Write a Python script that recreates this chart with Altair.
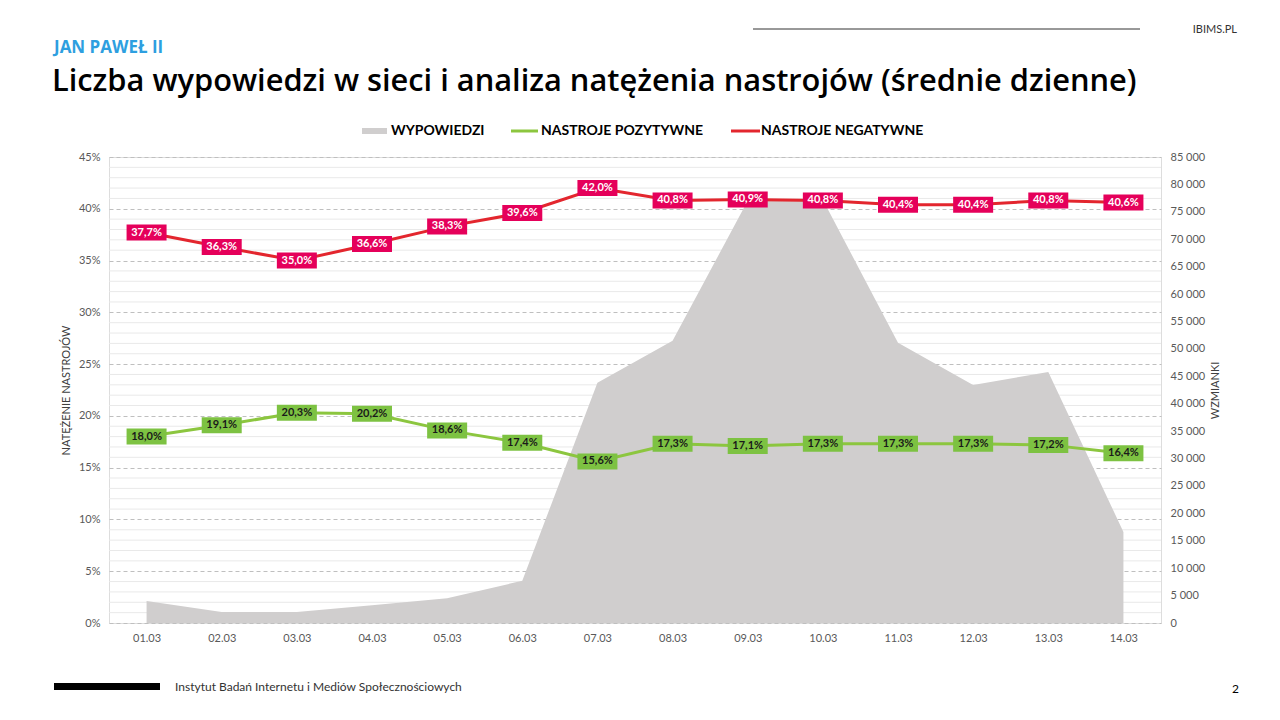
import altair as alt
import pandas as pd

# ---------------- data ----------------
dates = ["01.03", "02.03", "03.03", "04.03", "05.03", "06.03", "07.03",
         "08.03", "09.03", "10.03", "11.03", "12.03", "13.03", "14.03"]
wypowiedzi = [4000, 2000, 2000, 3250, 4500, 7700, 43800,
              51500, 77000, 77200, 51100, 43400, 45800, 16600]
pozytywne = [18.0, 19.1, 20.3, 20.2, 18.6, 17.4, 15.6,
             17.3, 17.1, 17.3, 17.3, 17.3, 17.2, 16.4]
negatywne = [37.7, 36.3, 35.0, 36.6, 38.3, 39.6, 42.0,
             40.8, 40.9, 40.8, 40.4, 40.4, 40.8, 40.6]
left_ticks = [0, 5, 10, 15, 20, 25, 30, 35, 40, 45]
minor_ticks = [v for v in range(0, 46) if v % 5 != 0]
right_ticks = list(range(0, 85001, 5000))

df = pd.DataFrame({"data": dates, "wyp": wypowiedzi})
long = pd.DataFrame({
    "data": dates + dates,
    "seria": ["poz"] * len(dates) + ["neg"] * len(dates),
    "wartosc": pozytywne + negatywne,
})
minor_df = pd.DataFrame({"v": minor_ticks})

# ---------------- styling ----------------
W, H = 1052, 466
FONT = "Lato"
AXIS_GRAY = "#595959"
AREA_COL = "#D0CECE"
GREEN_LINE = "#8CC63F"
GREEN_BOX = "#7DC242"
RED_LINE = "#E3262E"
RED_BOX = "#E5005A"
BLUE = "#2E9FE0"

x_enc = alt.X(
    "data:N", sort=dates,
    scale=alt.Scale(type="point", padding=0.5),
    axis=alt.Axis(title=None, labelFont=FONT, labelFontSize=11,
                  labelColor=AXIS_GRAY, domain=False, ticks=False,
                  labelPadding=9, labelAngle=0, grid=False),
)

left_scale = alt.Scale(domain=[0, 45], nice=False, zero=True)
right_scale = alt.Scale(domain=[0, 85000], nice=False, zero=True)

left_axis = alt.Axis(
    orient="left", values=left_ticks, title="NATĘŻENIE NASTROJÓW",
    labelExpr="datum.value + '%'",
    labelFont=FONT, labelFontSize=11, labelColor=AXIS_GRAY, labelPadding=9,
    grid=True, gridColor="#BFBFBF", gridDash=[4, 3], gridWidth=1,
    domain=False, ticks=False,
    titleFont=FONT, titleFontSize=11, titleFontWeight="normal",
    titleColor="#404040", titlePadding=7,
)

right_axis = alt.Axis(
    orient="right", values=right_ticks, title="WZMIANKI",
    labelExpr="replace(format(datum.value, ','), ',', ' ')",
    labelFont=FONT, labelFontSize=11, labelColor=AXIS_GRAY, labelPadding=9,
    grid=False, domain=False, ticks=False,
    titleFont=FONT, titleFontSize=11, titleFontWeight="normal",
    titleColor="#404040", titleAngle=270, titleBaseline="top", titlePadding=5,
)

minor_grid = alt.Chart(minor_df).mark_rule(color="#E9E9E9", strokeWidth=1).encode(
    y=alt.Y("v:Q", scale=alt.Scale(domain=[0, 45], nice=False), axis=None))

area = alt.Chart(df).mark_area(color=AREA_COL).encode(
    x=x_enc,
    y=alt.Y("wyp:Q", scale=right_scale, axis=right_axis),
)

lbase = alt.Chart(long).transform_calculate(
    lbl="replace(format(datum.wartosc, '.1f'), '.', ',') + '%'"
).encode(
    x=x_enc,
    y=alt.Y("wartosc:Q", scale=left_scale, axis=left_axis),
)
pos = lbase.transform_filter("datum.seria == 'poz'")
neg = lbase.transform_filter("datum.seria == 'neg'")

BOX = "M-1,-0.4L1,-0.4L1,0.4L-1,0.4Z"
green_line = pos.mark_line(color=GREEN_LINE, strokeWidth=3)
red_line = neg.mark_line(color=RED_LINE, strokeWidth=3)
green_box = pos.mark_point(shape=BOX, size=1600, filled=True, opacity=1,
                           color=GREEN_BOX, strokeWidth=0)
red_box = neg.mark_point(shape=BOX, size=1600, filled=True, opacity=1,
                         color=RED_BOX, strokeWidth=0)
green_text = pos.mark_text(font=FONT, fontSize=11, fontWeight="bold",
                           color="#1A1A1A").encode(text="lbl:N")
red_text = neg.mark_text(font=FONT, fontSize=11, fontWeight="bold",
                         color="white").encode(text="lbl:N")

lines = alt.layer(green_line, red_line, green_box, red_box, green_text, red_text)

# ---------------- decorations (positions relative to plot origin at page 109,157) ----------------
OX, OY = 109, 157
one = alt.Data(values=[{"k": 1}])


def txt(s, px, py, size, color="#000000", weight="normal", align="left",
        baseline="alphabetic", font=FONT):
    return alt.Chart(one).mark_text(
        text=s, font=font, fontSize=size, fontWeight=weight, color=color,
        align=align, baseline=baseline,
    ).encode(x=alt.value(px - OX), y=alt.value(py - OY))


def rect(x1, x2, y1, y2, color):
    return alt.Chart(one).mark_rect(color=color).encode(
        x=alt.value(x1 - OX), x2=alt.value(x2 - OX),
        y=alt.value(y1 - OY), y2=alt.value(y2 - OY))


def hline(x1, x2, y, color, w):
    return alt.Chart(one).mark_rule(color=color, strokeWidth=w).encode(
        x=alt.value(x1 - OX), x2=alt.value(x2 - OX), y=alt.value(y - OY))


deco = [
    txt("JAN PAWEŁ II", 54, 53, 17, BLUE, "bold", font="Open Sans"),
    txt("Liczba wypowiedzi w sieci i analiza natężenia nastrojów (średnie dzienne)",
        52, 91, 30.8, "#000000", 600, font="Open Sans"),
    hline(753, 1140, 29, "#333333", 1),
    txt("IBIMS.PL", 1237, 33, 11, "#333333", "normal", "right"),
    rect(54, 160, 683, 690, "#000000"),
    txt("Instytut Badań Internetu i Mediów Społecznościowych", 175, 691, 12,
        "#333333", "normal"),
    txt("2", 1232, 693, 12, "#000000"),
    # legend
    rect(362, 387, 128, 134, AREA_COL),
    txt("WYPOWIEDZI", 391, 131, 14, "#000000", "bold", "left", "middle"),
    hline(511, 538, 131, GREEN_LINE, 3),
    txt("NASTROJE POZYTYWNE", 541, 131, 14, "#000000", "bold", "left", "middle"),
    hline(731, 760, 131, RED_LINE, 3),
    txt("NASTROJE NEGATYWNE", 761, 131, 14, "#000000", "bold", "left", "middle"),
]

chart = alt.layer(minor_grid, area, lines, *deco).resolve_scale(y="independent").properties(
    width=W, height=H,
    autosize=alt.AutoSizeParams(type="none"),
    padding={"left": 101, "top": 149, "right": 111, "bottom": 90},
).configure_view(stroke="transparent", strokeWidth=0).configure(background="white")

chart.save("out.html", embed_options={"renderer": "svg", "actions": False})
